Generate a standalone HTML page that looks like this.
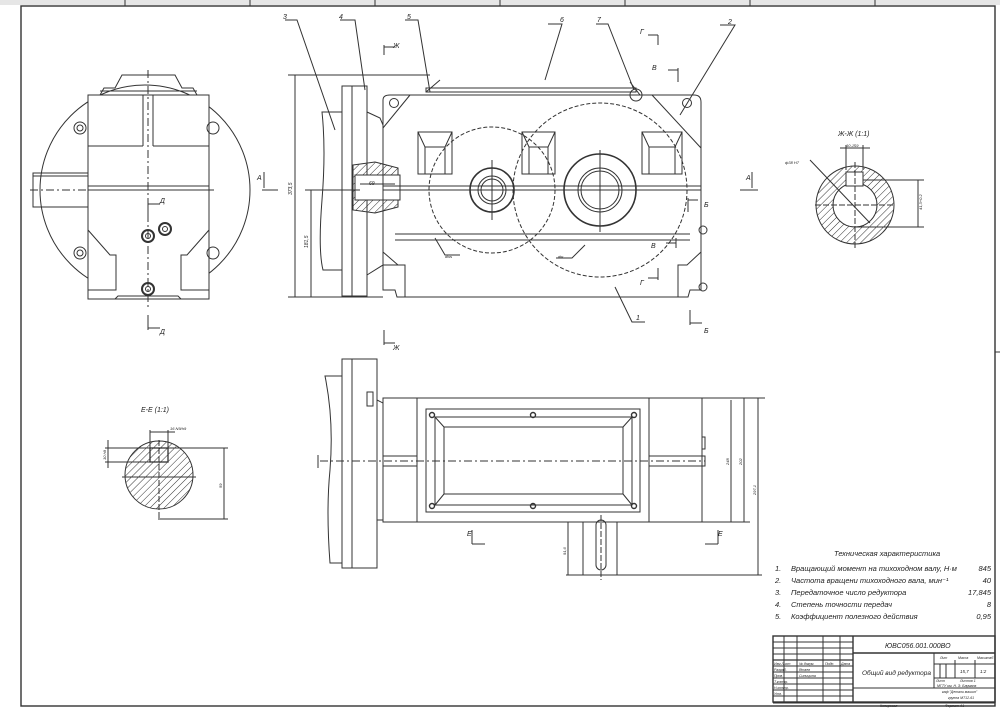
<!DOCTYPE html>
<html><head><meta charset="utf-8"><style>
html,body{margin:0;padding:0;background:#fff}
svg{display:block}
text{font-family:"Liberation Sans","DejaVu Sans",sans-serif;font-style:italic;fill:#222}
</style></head><body>
<svg width="1000" height="708" viewBox="0 0 1000 708" xmlns="http://www.w3.org/2000/svg">
<defs>
<pattern id="h" width="5" height="5" patternUnits="userSpaceOnUse" patternTransform="rotate(45)"><line x1="0" y1="0" x2="0" y2="5" stroke="#333" stroke-width="1"/></pattern>
</defs>
<rect x="0" y="0" width="1000" height="5" fill="#e6e6e6"/>
<g stroke="#333" fill="none" stroke-width="1">
<rect x="21" y="6" width="974" height="700" stroke-width="1.4"/>
<line x1="125" y1="0" x2="125" y2="6"/><line x1="250" y1="0" x2="250" y2="6"/><line x1="375" y1="0" x2="375" y2="6"/><line x1="500" y1="0" x2="500" y2="6"/><line x1="625" y1="0" x2="625" y2="6"/><line x1="750" y1="0" x2="750" y2="6"/><line x1="875" y1="0" x2="875" y2="6"/>
<line x1="995" y1="352" x2="1000" y2="352"/>
</g>

<!-- LEFT VIEW -->
<g stroke="#333" fill="none" stroke-width="1">
<circle cx="145" cy="190" r="105"/>
<rect x="88" y="95" width="121" height="204" fill="#fff"/>
<path d="M100 95 L104 88 L115 88 L122 75 L175 75 L182 88 L193 88 L197 95"/>
<line x1="100" y1="91" x2="197" y2="91"/>
<rect x="33" y="173" width="55" height="34"/>
<line x1="33" y1="176" x2="88" y2="176"/>
<rect x="88" y="186" width="121" height="4"/>
<line x1="88" y1="146" x2="143" y2="146"/><line x1="153" y1="146" x2="209" y2="146"/>
<line x1="143" y1="95" x2="143" y2="146"/><line x1="153" y1="95" x2="153" y2="146"/>
<path d="M88 230 L110 255 L116 255 L116 290 L88 290"/>
<path d="M209 230 L187 255 L181 255 L181 290 L209 290"/>
<path d="M88 290 L88 299 L115 299 L118 296 L178 296 L181 299 L209 299"/>
<circle cx="80" cy="128" r="6"/><circle cx="80" cy="128" r="3"/>
<circle cx="213" cy="128" r="6"/>
<circle cx="80" cy="253" r="6"/><circle cx="80" cy="253" r="3"/>
<circle cx="213" cy="253" r="6"/>
<circle cx="148" cy="236" r="6" stroke-width="2"/><circle cx="148" cy="236" r="2.5"/>
<circle cx="165" cy="229" r="6" stroke-width="2"/><circle cx="165" cy="229" r="2.5"/>
<circle cx="148" cy="289" r="6" stroke-width="2"/><circle cx="148" cy="289" r="2.5"/>
<line x1="148" y1="70" x2="148" y2="310" stroke-dasharray="8 3 2 3"/>
<line x1="30" y1="190" x2="215" y2="190" stroke-dasharray="8 3 2 3"/>
<path d="M148 200 L148 215 M148 204 L160 204 M148 315 L148 330 M148 328 L160 328"/>
<path d="M264 172 L264 188 M262 190 L278 190"/>
</g>
<text x="160" y="203" font-size="7">Д</text><text x="160" y="334" font-size="7">Д</text><text x="257" y="180" font-size="7">А</text>

<!-- FRONT VIEW -->
<g stroke="#333" fill="none" stroke-width="1">
<path d="M322 112 L342 112 L342 270 L323 270 Q318 250 322 200 Q326 150 322 112Z"/>
<rect x="342" y="86" width="25" height="210"/>
<line x1="352" y1="86" x2="352" y2="296"/>
<path d="M367 112 L380 118 L383 125 L383 265 L367 275"/>
<path d="M353 165 L375 162 L398 168 L398 207 L375 213 L353 210Z" fill="url(#h)"/>
<rect x="355" y="175" width="45" height="25" fill="#fff"/>
<path d="M383 100 Q383 95 390 95 L694 95 Q701 95 701 102 L701 290 L690 290 L688 297 L397 297 L395 290 L383 290Z"/>
<rect x="426" y="88" width="210" height="4"/>
<path d="M440 80 L426 92 M630 82 L640 95"/>
<circle cx="394" cy="103" r="4.5"/><circle cx="687" cy="103" r="4.5"/>
<circle cx="636" cy="95" r="6"/>
<line x1="383" y1="128" x2="410" y2="95"/><line x1="701" y1="148" x2="652" y2="95"/>
<line x1="383" y1="186" x2="701" y2="186"/><line x1="383" y1="190" x2="701" y2="190"/>
<line x1="395" y1="234" x2="690" y2="234"/><line x1="395" y1="240" x2="690" y2="240"/>
<g stroke-dasharray="4 2"><circle cx="492" cy="190" r="63"/><circle cx="600" cy="190" r="87"/></g>
<rect x="418" y="132" width="34" height="42"/><path d="M418 132 L425 147 L445 147 L452 132 M425 147 L425 174 M445 147 L445 174"/>
<rect x="522" y="132" width="33" height="42"/><path d="M522 132 L529 147 L548 147 L555 132 M529 147 L529 174 M548 147 L548 174"/>
<rect x="642" y="132" width="40" height="42"/><path d="M642 132 L649 147 L675 147 L682 132 M649 147 L649 174 M675 147 L675 174"/>
<circle cx="492" cy="190" r="22" stroke-width="1.6"/><circle cx="492" cy="190" r="14"/><circle cx="492" cy="190" r="11"/>
<circle cx="600" cy="190" r="36" stroke-width="1.6"/><circle cx="600" cy="190" r="22"/><circle cx="600" cy="190" r="19"/>
<path d="M383 252 L398 265 L405 265 L405 297 M383 265 L405 265"/>
<path d="M701 252 L687 265 L678 265 L678 297"/>
<circle cx="703" cy="230" r="4"/><circle cx="703" cy="287" r="4"/>
<line x1="492" y1="160" x2="492" y2="220"/><line x1="600" y1="150" x2="600" y2="232"/>
<line x1="295" y1="75" x2="295" y2="297"/><line x1="288" y1="75" x2="430" y2="75"/><line x1="288" y1="297" x2="383" y2="297"/>
<line x1="311" y1="190" x2="311" y2="297"/><line x1="305" y1="190" x2="360" y2="190"/>
<line x1="360" y1="184" x2="395" y2="184"/>
<path d="M384 45 L384 55 M384 47 L395 47 M384 330 L384 345 M384 343 L395 343"/>
<path d="M658 35 L658 45 M648 35 L658 35 M678 68 L678 82 M668 70 L678 70 M688 198 L688 212 M688 200 L698 200 M690 310 L690 325 M690 323 L702 323 M658 268 L658 280 M648 278 L658 278 M676 238 L676 248 M666 243 L676 243"/>
<path d="M752 172 L752 188 M740 190 L758 190"/>
<path d="M285 20 L297 20 L335 130"/><path d="M340 20 L355 20 L365 90"/><path d="M405 20 L418 20 L430 92"/><path d="M548 24 L562 24 L545 80"/><path d="M596 24 L608 24 L634 90"/><path d="M720 25 L735 25 L680 115"/>
<path d="M615 287 L632 322 L645 322"/>
<path d="M435 238 L445 255 L460 255 M585 245 L572 258 L556 258"/>
</g>
<g font-size="7">
<text x="283" y="19">3</text><text x="339" y="19">4</text><text x="407" y="19">5</text><text x="560" y="22">6</text><text x="597" y="22">7</text><text x="728" y="24">2</text><text x="636" y="320">1</text>
<text x="393" y="48">Ж</text><text x="393" y="350">Ж</text>
<text x="640" y="34">Г</text><text x="652" y="70">В</text><text x="704" y="207">Б</text><text x="704" y="333">Б</text><text x="651" y="248">В</text><text x="640" y="285">Г</text><text x="746" y="180">А</text>
<text x="369" y="185" font-size="5">69</text><text x="445" y="258" font-size="4">dws</text><text x="558" y="258" font-size="4">dw</text>
<text transform="translate(292 195) rotate(-90)" font-size="5">373,5</text>
<text transform="translate(308 248) rotate(-90)" font-size="5">181,5</text>
</g>

<!-- SECTION Ж-Ж -->
<g stroke="#333" fill="none" stroke-width="1">
<circle cx="855" cy="205" r="39" fill="url(#h)"/>
<circle cx="855" cy="205" r="22" fill="#fff"/>
<rect x="846" y="172" width="17" height="14" fill="#fff"/>
<line x1="815" y1="205" x2="895" y2="205" stroke-dasharray="6 2"/><line x1="855" y1="162" x2="855" y2="248" stroke-dasharray="6 2"/>
<line x1="810" y1="160" x2="870" y2="223"/>
<line x1="846" y1="145" x2="846" y2="170"/><line x1="863" y1="145" x2="863" y2="170"/><line x1="840" y1="148" x2="870" y2="148"/>
<line x1="863" y1="180" x2="924" y2="180"/><line x1="855" y1="227" x2="924" y2="227"/><line x1="918" y1="180" x2="918" y2="227"/>
</g>
<text x="838" y="136" font-size="7">Ж-Ж (1:1)</text>
<text x="785" y="164" font-size="4">ф38 H7</text><text x="846" y="147" font-size="4">10 JS9</text>
<text transform="translate(922 210) rotate(-90)" font-size="4">41,3+0.2</text>

<!-- SECTION Е-Е -->
<g stroke="#333" fill="none" stroke-width="1">
<circle cx="159" cy="475" r="34" fill="url(#h)"/>
<rect x="150" y="448" width="18" height="14" fill="#fff"/>
<rect x="150" y="448" width="18" height="14" fill="url(#h)" stroke-width="1.3"/>
<line x1="122" y1="477" x2="196" y2="477"/><line x1="159" y1="440" x2="159" y2="520" stroke-dasharray="6 2"/>
<line x1="150" y1="430" x2="150" y2="448"/><line x1="168" y1="430" x2="168" y2="448"/><line x1="150" y1="432" x2="175" y2="432"/>
<line x1="105" y1="448" x2="228" y2="448"/><line x1="105" y1="462" x2="150" y2="462"/><line x1="108" y1="440" x2="108" y2="468"/>
<line x1="158" y1="519" x2="228" y2="519"/><line x1="224" y1="448" x2="224" y2="519"/>
</g>
<text x="141" y="412" font-size="7">Е-Е (1:1)</text>
<text x="170" y="430" font-size="4">16 N9/h9</text>
<text transform="translate(106 460) rotate(-90)" font-size="4">10 h9</text>
<text transform="translate(222 488) rotate(-90)" font-size="4">59</text>

<!-- TOP VIEW -->
<g stroke="#333" fill="none" stroke-width="1">
<path d="M325 376 L342 376 L342 563 L330 563 Q326 510 330 470 Q334 420 325 376Z"/>
<rect x="342" y="359" width="35" height="209"/><line x1="352" y1="359" x2="352" y2="568"/>
<rect x="367" y="392" width="6" height="14"/>
<path d="M377 400 L383 403 L383 520 L377 520"/>
<rect x="383" y="398" width="319" height="124"/>
<rect x="426" y="409" width="214" height="103"/>
<rect x="435" y="417" width="197" height="88"/>
<rect x="444" y="427" width="179" height="67"/>
<path d="M435 417 L444 427 M632 417 L623 427 M435 505 L444 494 M632 505 L623 494"/>
<line x1="417" y1="398" x2="417" y2="522"/><line x1="649" y1="398" x2="649" y2="522"/>
<path d="M383 456 L417 456 M383 466 L417 466 M649 456 L702 456 M649 466 L702 466"/>
<line x1="320" y1="461" x2="705" y2="461" stroke-dasharray="8 3 2 3"/>
<g stroke-width="1.4"><circle cx="432" cy="415" r="2.5"/><circle cx="533" cy="415" r="2.5"/><circle cx="634" cy="415" r="2.5"/><circle cx="432" cy="506" r="2.5"/><circle cx="533" cy="506" r="2.5"/><circle cx="634" cy="506" r="2.5"/></g>
<rect x="583" y="522" width="34" height="53"/>
<rect x="596" y="520" width="10" height="50" rx="5"/>
<line x1="601" y1="515" x2="601" y2="580" stroke-dasharray="6 2"/>
<line x1="568" y1="522" x2="568" y2="575"/><line x1="566" y1="575" x2="762" y2="575"/>
<line x1="702" y1="398" x2="765" y2="398"/><line x1="702" y1="522" x2="750" y2="522"/>
<line x1="731" y1="400" x2="731" y2="522"/><line x1="744" y1="398" x2="744" y2="522"/><line x1="758" y1="398" x2="758" y2="575"/>
<rect x="702" y="437" width="3" height="12"/><rect x="702" y="456" width="3" height="10"/>
<path d="M472 530 L472 544 M472 544 L485 544 M718 530 L718 544 M705 544 L718 544"/>
<line x1="318" y1="455" x2="318" y2="468"/>
</g>
<text x="467" y="536" font-size="7">Е</text><text x="718" y="536" font-size="7">Е</text>
<g font-size="4"><text transform="translate(729 465) rotate(-90)">248</text><text transform="translate(742 465) rotate(-90)">202</text><text transform="translate(756 495) rotate(-90)">297,1</text><text transform="translate(566 555) rotate(-90)">91,6</text></g>

<!-- TECH CHARACTERISTICS -->
<g font-size="7.5">
<text x="834" y="556">Техническая характеристика</text>
<text x="775" y="571">1.</text><text x="791" y="571">Вращающий момент на тихоходном валу, Н·м</text><text x="991" y="571" text-anchor="end">845</text>
<text x="775" y="583">2.</text><text x="791" y="583">Частота вращени тихоходного вала, мин⁻¹</text><text x="991" y="583" text-anchor="end">40</text>
<text x="775" y="595">3.</text><text x="791" y="595">Передаточное число редуктора</text><text x="991" y="595" text-anchor="end">17,845</text>
<text x="775" y="607">4.</text><text x="791" y="607">Степень точности передач</text><text x="991" y="607" text-anchor="end">8</text>
<text x="775" y="619">5.</text><text x="791" y="619">Коэффициент полезного действия</text><text x="991" y="619" text-anchor="end">0,95</text>
</g>

<!-- TITLE BLOCK -->
<g stroke="#333" fill="none" stroke-width="1">
<rect x="773" y="636" width="222" height="66" stroke-width="1.4"/>
<line x1="853" y1="636" x2="853" y2="702" stroke-width="1.4"/>
<line x1="853" y1="653" x2="995" y2="653" stroke-width="1.4"/>
<line x1="934" y1="653" x2="934" y2="688"/>
<line x1="934" y1="664" x2="995" y2="664"/><line x1="934" y1="678" x2="995" y2="678"/>
<line x1="853" y1="688" x2="995" y2="688"/>
<line x1="955" y1="660" x2="955" y2="678"/><line x1="975" y1="660" x2="975" y2="678"/>
<line x1="940" y1="664" x2="940" y2="678"/><line x1="946" y1="664" x2="946" y2="678"/>
<line x1="784" y1="636" x2="784" y2="702"/><line x1="797" y1="636" x2="797" y2="702"/><line x1="823" y1="636" x2="823" y2="702"/><line x1="840" y1="636" x2="840" y2="702"/>
<line x1="773" y1="642" x2="853" y2="642"/><line x1="773" y1="648" x2="853" y2="648"/><line x1="773" y1="654" x2="853" y2="654"/><line x1="773" y1="660" x2="853" y2="660" stroke-width="1.3"/>
<line x1="773" y1="666" x2="853" y2="666"/><line x1="773" y1="672" x2="853" y2="672"/><line x1="773" y1="678" x2="853" y2="678"/><line x1="773" y1="684" x2="853" y2="684"/><line x1="773" y1="690" x2="853" y2="690"/><line x1="773" y1="696" x2="853" y2="696"/>
<line x1="773" y1="703" x2="995" y2="703"/>
</g>
<text x="885" y="648" font-size="7">ЮВС056.001.000ВО</text>
<text x="862" y="675" font-size="6.5">Общий вид редуктора</text>
<g font-size="3.5">
<text x="940" y="659">Лит</text><text x="958" y="659">Масса</text><text x="977" y="659">Масштаб</text>
<text x="960" y="673" font-size="4.5">15,7</text><text x="980" y="673" font-size="4.5">1:2</text>
<text x="936" y="682">Лист</text><text x="960" y="682">Листов 1</text>
<text x="937" y="687">МГТУ им. Н. Э. Баумана</text>
<text x="942" y="693">каф "Детали машин"</text><text x="948" y="699">группа МТ12-61</text>
<text x="774" y="665">Изм Лист</text><text x="799" y="665">№ докум.</text><text x="825" y="665">Подп.</text><text x="841" y="665">Дата</text>
<text x="774" y="671">Разраб.</text><text x="799" y="671">Ятаев</text>
<text x="774" y="677">Пров.</text><text x="799" y="677">Синицына</text>
<text x="774" y="683">Т.контр.</text><text x="774" y="689">Н.контр.</text><text x="774" y="695">Утв.</text>
<text x="880" y="707">Копировал</text><text x="945" y="707">Формат А1</text>
</g>
</svg>
</body></html>
